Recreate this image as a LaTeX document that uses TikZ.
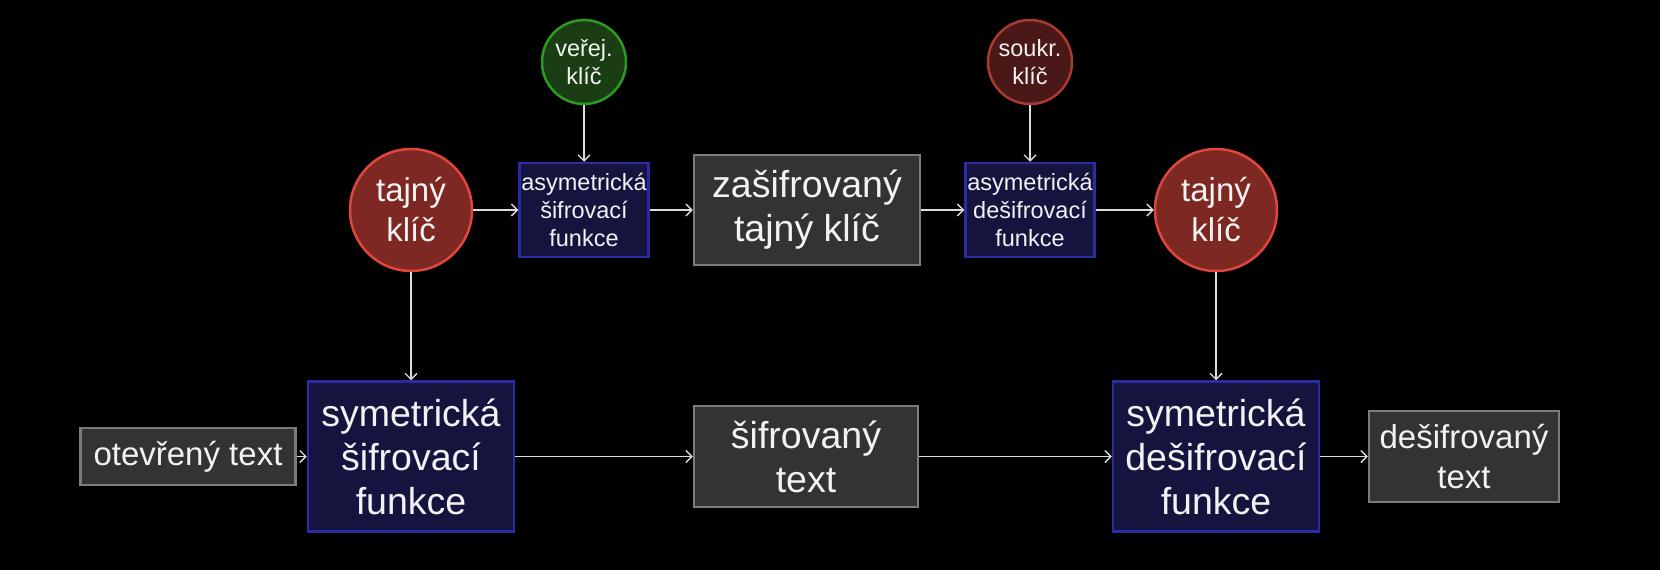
\documentclass[tikz,border=0pt]{standalone}
\usepackage{fontspec}
\setmainfont{Liberation Sans}
\usetikzlibrary{arrows.meta}
\definecolor{redfill}{HTML}{7D2822}
\definecolor{redline}{HTML}{E0463A}
\definecolor{greenfill}{HTML}{1B3D13}
\definecolor{greenline}{HTML}{2E9A24}
\definecolor{darkredfill}{HTML}{4B1818}
\definecolor{darkredline}{HTML}{A83A32}
\definecolor{bluefill}{HTML}{14143F}
\definecolor{blueline}{HTML}{2B2BA6}
\definecolor{grayfill}{HTML}{333333}
\definecolor{grayline}{HTML}{7C7C7C}
\definecolor{txt}{HTML}{F2F2F2}
\definecolor{arr}{HTML}{DCDCDC}
\tikzset{
  base/.style={text=txt, align=center, line width=2.5pt, inner sep=0pt},
  smallfont/.style={font=\fontsize{23.5}{28}\selectfont},
  midfont/.style={font=\fontsize{33}{40}\selectfont},
  bigfont/.style={font=\fontsize{37.5}{44}\selectfont},
  keycircle/.style={base, circle, draw=redline, fill=redfill, minimum size=122pt, midfont},
  pubkey/.style={base, circle, draw=greenline, fill=greenfill, minimum size=84pt, smallfont},
  privkey/.style={base, circle, draw=darkredline, fill=darkredfill, minimum size=84pt, smallfont},
  asymbox/.style={base, rectangle, draw=blueline, fill=bluefill, minimum width=129pt, minimum height=94pt, smallfont},
  symbox/.style={base, rectangle, draw=blueline, fill=bluefill, minimum width=206pt, minimum height=150pt, bigfont},
  graybox/.style={base, rectangle, draw=grayline, fill=grayfill},
  conn/.style={draw=arr, line width=1.3pt, -{Straight Barb[length=6pt,width=12pt,line width=1.3pt]}}
}
\begin{document}
\begin{tikzpicture}[x=1pt,y=-1pt]
\fill[black] (0,0) rectangle (1660,570);
\useasboundingbox (0,0) rectangle (1660,570);

\node[keycircle] (tk1) at (411,210) {tajný\\klíč};
\node[pubkey] (pub) at (584,62) {veřej.\\klíč};
\node[asymbox] (as1) at (584,210) {asymetrická\\šifrovací\\funkce};
\node[graybox, bigfont, minimum width=226pt, minimum height=110pt] (ztk) at (807,210) {zašifrovaný\\tajný klíč};
\node[privkey] (priv) at (1030,62) {soukr.\\klíč};
\node[asymbox] (as2) at (1030,210) {asymetrická\\dešifrovací\\funkce};
\node[keycircle] (tk2) at (1216,210) {tajný\\klíč};

\node[graybox, midfont, minimum width=215pt, minimum height=57pt] (ot) at (188,456.5) {otevřený text};
\node[symbox] (ss) at (411,456.5) {symetrická\\šifrovací\\funkce};
\node[graybox, bigfont, minimum width=224pt, minimum height=101pt] (st) at (806,456.5) {šifrovaný\\text};
\node[symbox] (sd) at (1216,456.5) {symetrická\\dešifrovací\\funkce};
\node[graybox, midfont, minimum width=190pt, minimum height=91pt] (dt) at (1464,456.5) {dešifrovaný\\text};

\draw[conn] (tk1) -- (as1);
\draw[conn] (as1) -- (ztk);
\draw[conn] (ztk) -- (as2);
\draw[conn] (as2) -- (tk2);
\draw[conn] (pub) -- (as1);
\draw[conn] (priv) -- (as2);
\draw[conn] (tk1) -- (ss);
\draw[conn] (tk2) -- (sd);
\draw[conn] (ot) -- (ss);
\draw[conn] (ss) -- (st);
\draw[conn] (st) -- (sd);
\draw[conn] (sd) -- (dt);
\end{tikzpicture}
\end{document}
